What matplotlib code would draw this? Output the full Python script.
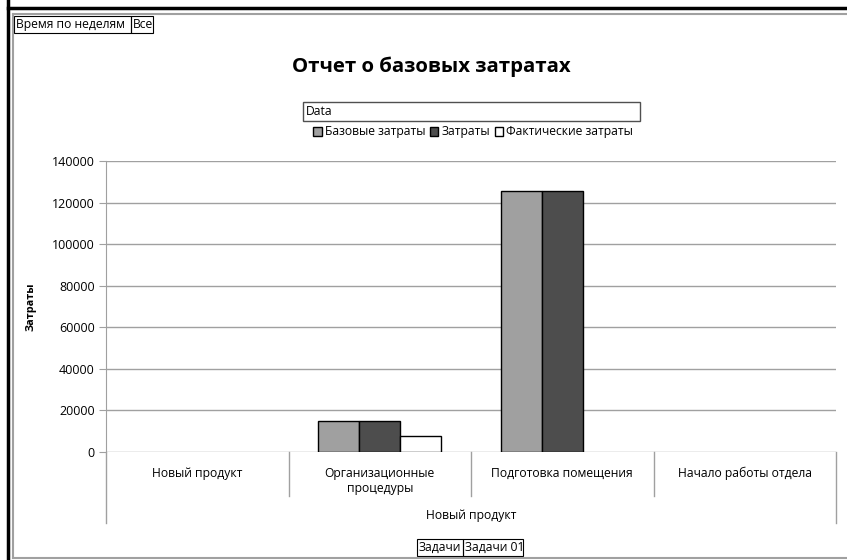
import matplotlib.pyplot as plt
from matplotlib.patches import Patch, Rectangle
from matplotlib.lines import Line2D
from matplotlib.transforms import blended_transform_factory
import numpy as np

plt.rcParams['font.family'] = ['Open Sans', 'DejaVu Sans']

# chart data
categories = ['Новый продукт', 'Организационные\nпроцедуры',
              'Подготовка помещения', 'Начало работы отдела']
group_label = 'Новый продукт'
series_names = ['Базовые затраты', 'Затраты', 'Фактические затраты']
base_costs = [0, 15000, 125600, 0]
costs = [0, 15000, 125600, 0]
actual_costs = [0, 7500, 0, 0]
series_colors = ['#a0a0a0', '#4d4d4d', '#ffffff']
yticks = list(range(0, 140001, 20000))

W, H = 847, 560
FS = 8.7
fig = plt.figure(figsize=(W / 100, H / 100), dpi=100)


def fx(px):
    return px / W


def fy(py):
    return 1 - py / H


ax = fig.add_axes([fx(106), fy(452), fx(836) - fx(106), fy(161) - fy(452)])

x = np.arange(len(categories))
bw = 0.225
for i, (vals, col) in enumerate(zip([base_costs, costs, actual_costs], series_colors)):
    bars = ax.bar(x + (i - 1) * bw, vals, width=bw, color=col, edgecolor='black',
                  linewidth=1, zorder=3)
    for b in bars:
        if b.get_height() == 0:
            b.set_visible(False)

ax.set_xlim(-0.5, len(categories) - 0.5)
ax.set_ylim(0, 140000)
ax.set_yticks(yticks)
ax.set_yticklabels([str(v) for v in yticks], fontsize=9)
ax.yaxis.grid(True, color='#a0a0a0', linewidth=1)
ax.set_axisbelow(True)
ax.tick_params(axis='y', length=5, color='#a0a0a0', pad=3)
ax.set_xticks([])
for s in ['top', 'right', 'bottom']:
    ax.spines[s].set_visible(False)
ax.spines['left'].set_color('#a0a0a0')
ax.set_ylabel('Затраты', fontsize=7.8, fontweight='bold', labelpad=11)

# category separators and labels below the axis
tr = blended_transform_factory(ax.transData, ax.transAxes)
for d in np.arange(-0.5, len(categories), 1.0):
    outer = d in (-0.5, len(categories) - 0.5)
    ax.plot([d, d], [0, -0.244 if outer else -0.151], transform=tr,
            color='#a0a0a0', lw=1, clip_on=False)
for xi, name in zip(x, categories):
    ax.text(xi, -0.05, name, transform=tr, ha='center', va='top',
            fontsize=FS, linespacing=1.25)
ax.text(0.5, -0.217, group_label, transform=ax.transAxes, ha='center',
        va='center', fontsize=FS)

fig.text(fx(431), fy(67), 'Отчет о базовых затратах', ha='center',
         va='center', fontsize=14.7, fontweight='bold')

# "Data" field box and legend
fig.add_artist(Rectangle((fx(303), fy(121)), fx(640) - fx(303), fy(102) - fy(121),
                         transform=fig.transFigure, fill=False,
                         edgecolor='#505050', lw=1))
fig.text(fx(306), fy(111.5), 'Data', ha='left', va='center', fontsize=FS)
handles = [Patch(facecolor=c, edgecolor='black', lw=1) for c in series_colors]
fig.legend(handles, series_names, loc='center left',
           bbox_to_anchor=(fx(307), fy(132)), ncol=3, frameon=False,
           fontsize=FS, handlelength=0.7, handleheight=0.7,
           handletextpad=0.25, columnspacing=0.4, borderpad=0)


def field_boxes(x0, y0, y1, parts):
    for label, w in parts:
        fig.add_artist(Rectangle((fx(x0), fy(y1)), fx(w), fy(y0) - fy(y1),
                                 transform=fig.transFigure, fill=False,
                                 edgecolor='black', lw=0.8))
        fig.text(fx(x0 + 1.5), (fy(y0) + fy(y1)) / 2, label, ha='left',
                 va='center', fontsize=FS)
        x0 += w


field_boxes(14, 16, 33, [('Время по неделям', 117), ('Все', 22)])
field_boxes(417, 539, 556, [('Задачи', 46), ('Задачи 01', 60)])

# outer frame
fig.add_artist(Line2D([fx(8), fx(8)], [0, 1], transform=fig.transFigure,
                      color='black', lw=2.5))
fig.add_artist(Line2D([fx(8), 1], [fy(8), fy(8)], transform=fig.transFigure,
                      color='black', lw=2.5))
fig.add_artist(Line2D([fx(13), fx(13)], [fy(558), fy(14)], transform=fig.transFigure,
                      color='#a0a0a0', lw=1.5))
fig.add_artist(Line2D([fx(13), 1], [fy(14), fy(14)], transform=fig.transFigure,
                      color='#a0a0a0', lw=1.5))
fig.add_artist(Line2D([fx(13), 1], [fy(558), fy(558)], transform=fig.transFigure,
                      color='#a0a0a0', lw=1.5))

fig.savefig('out.png', dpi=100)
